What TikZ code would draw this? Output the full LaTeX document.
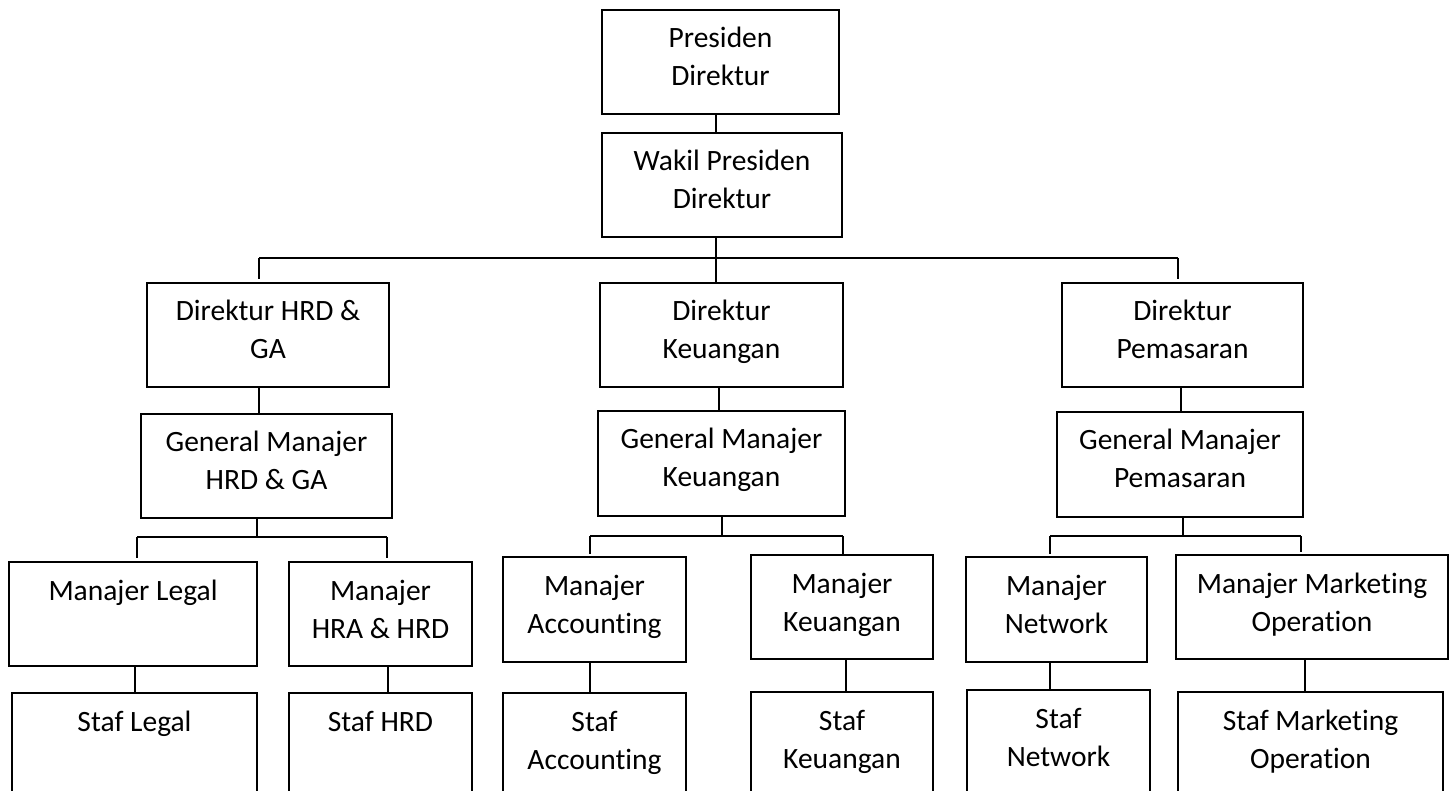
\documentclass[tikz,border=0pt]{standalone}
\usepackage{fontspec}
\setmainfont{Carlito}[Ligatures=NoCommon]
\usetikzlibrary{calc}
\tikzset{
  box/.style={draw=black, line width=1.3pt, inner sep=0pt, outer sep=0pt, font=\fontsize{29.5pt}{38pt}\selectfont},
  conn/.style={draw=black, line width=1.3pt}
}
\newcommand\orgbox[6]{\node[box,anchor=north west] (#1) at (#2,#3) {\parbox[t][\dimexpr#5pt-#3pt\relax][t]{\dimexpr#4pt-#2pt\relax}{\centering\rule{0pt}{38pt}#6}};}
\begin{document}
\begin{tikzpicture}[x=1pt,y=-1pt]
\useasboundingbox (0,0) rectangle (1452,791);
\fill[white] (0,0) rectangle (1452,791);
\clip (0,0) rectangle (1452,791);
% boxes
\orgbox{pres}{602}{10}{839}{114}{Presiden\\Direktur}
\orgbox{wakil}{602}{133}{842}{237}{Wakil Presiden\\Direktur}
\orgbox{dirhrd}{147}{283}{389}{387}{Direktur HRD \&\\GA}
\orgbox{dirkeu}{600}{283}{843}{387}{Direktur\\Keuangan}
\orgbox{dirpem}{1062}{283}{1303}{387}{Direktur\\Pemasaran}
\orgbox{gmhrd}{141}{414}{392}{518}{General Manajer\\HRD \& GA}
\orgbox{gmkeu}{598}{411}{845}{516}{General Manajer\\Keuangan}
\orgbox{gmpem}{1057}{412}{1303}{517}{General Manajer\\Pemasaran}
\orgbox{mlegal}{9}{562}{257}{666}{Manajer Legal}
\orgbox{mhra}{289}{562}{472}{666}{Manajer\\HRA \& HRD}
\orgbox{macc}{503}{557}{686}{662}{Manajer\\Accounting}
\orgbox{mkeu}{751}{555}{933}{659}{Manajer\\Keuangan}
\orgbox{mnet}{966}{557}{1147}{662}{Manajer\\Network}
\orgbox{mmo}{1176}{555}{1448}{659}{Manajer Marketing\\Operation}
\orgbox{slegal}{12}{693}{257}{810}{Staf Legal}
\orgbox{shrd}{289}{693}{472}{810}{Staf HRD}
\orgbox{sacc}{503}{693}{686}{810}{Staf\\Accounting}
\orgbox{skeu}{751}{692}{933}{810}{Staf\\Keuangan}
\orgbox{snet}{967}{690}{1150}{810}{Staf\\Network}
\orgbox{smo}{1178}{692}{1443}{810}{Staf Marketing\\Operation}
% bus coordinates
\coordinate (tM) at (716,258);
\coordinate (tL) at (259,258);
\coordinate (tR) at (1178,258);
\coordinate (c1) at (259,0);
\coordinate (c2) at (719,0);
\coordinate (c3) at (1181,0);
\coordinate (hM) at (257,537);
\coordinate (hL) at (137,537);
\coordinate (hR) at (387,537);
\coordinate (kM) at (722,536);
\coordinate (kL) at (590,536);
\coordinate (kR) at (843,536);
\coordinate (pM) at (1183,536);
\coordinate (pL) at (1050,536);
\coordinate (pR) at (1301,536);
\coordinate (s1) at (135,0);
\coordinate (s2) at (388,0);
\coordinate (s3) at (590,0);
\coordinate (s4) at (846,0);
\coordinate (s5) at (1050,0);
\coordinate (s6) at (1305,0);
% connectors
\draw[conn] (pres.south -| tM) -- (wakil.north -| tM);
\draw[conn] (wakil.south -| tM) -- (tM);
\draw[conn] (tL) -- (tR);
\draw[conn] (tL) -- ($(dirhrd.north -| tL)+(0,-4)$);
\draw[conn] (tM) -- ($(dirkeu.north -| tM)+(0,-1)$);
\draw[conn] (tR) -- ($(dirpem.north -| tR)+(0,-4)$);
\draw[conn] (dirhrd.south -| c1) -- (gmhrd.north -| c1);
\draw[conn] (dirkeu.south -| c2) -- (gmkeu.north -| c2);
\draw[conn] (dirpem.south -| c3) -- (gmpem.north -| c3);
% HRD bus
\draw[conn] (gmhrd.south -| hM) -- (hM);
\draw[conn] (hL) -- (hR);
\draw[conn] (hL) -- ($(mlegal.north -| hL)+(0,-4)$);
\draw[conn] (hR) -- ($(mhra.north -| hR)+(0,-4)$);
% Keuangan bus
\draw[conn] (gmkeu.south -| kM) -- (kM);
\draw[conn] (kL) -- (kR);
\draw[conn] (kL) -- ($(macc.north -| kL)+(0,-3)$);
\draw[conn] (kR) -- ($(mkeu.north -| kR)+(0,-1)$);
% Pemasaran bus
\draw[conn] (gmpem.south -| pM) -- (pM);
\draw[conn] (pL) -- (pR);
\draw[conn] (pL) -- ($(mnet.north -| pL)+(0,-3)$);
\draw[conn] (pR) -- ($(mmo.north -| pR)+(0,-3)$);
% manager to staff
\draw[conn] (mlegal.south -| s1) -- (slegal.north -| s1);
\draw[conn] (mhra.south -| s2) -- (shrd.north -| s2);
\draw[conn] (macc.south -| s3) -- (sacc.north -| s3);
\draw[conn] (mkeu.south -| s4) -- (skeu.north -| s4);
\draw[conn] (mnet.south -| s5) -- (snet.north -| s5);
\draw[conn] (mmo.south -| s6) -- (smo.north -| s6);
\end{tikzpicture}
\end{document}
